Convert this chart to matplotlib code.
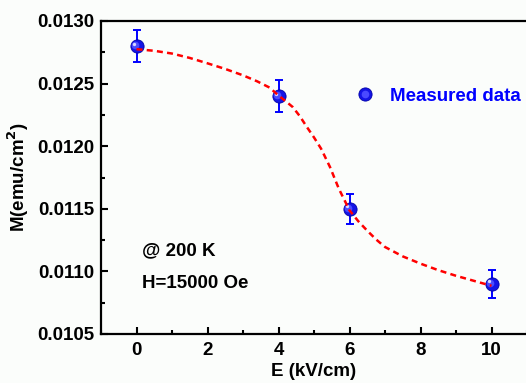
import matplotlib
matplotlib.use('Agg')
import matplotlib.pyplot as plt
import matplotlib.transforms as mtransforms
from matplotlib.legend_handler import HandlerTuple
from matplotlib.ticker import MultipleLocator

# measured points
field = [0, 4, 6, 10]
moment = [0.0128, 0.0124, 0.0115, 0.0109]
moment_err = [0.00013, 0.000125, 0.00012, 0.00011]

# dashed guide curve
fit_field = [0.0, 0.5, 1.0, 1.5, 2.0, 2.5, 3.0, 3.4, 3.75, 4.0, 4.2, 4.4, 4.6, 4.8,
             5.0, 5.2, 5.45, 5.7, 6.0, 6.25, 6.5, 6.75, 7.0, 7.5, 8.0, 8.5, 9.0, 9.5, 10.0]
fit_moment = [0.012775, 0.012762, 0.012740, 0.012705, 0.012662, 0.012617, 0.012566, 0.012518,
              0.012468, 0.012405, 0.012360, 0.012313, 0.012240, 0.012153, 0.012070,
              0.011980, 0.011834, 0.011660, 0.011488, 0.011400, 0.011325, 0.011255,
              0.011195, 0.011120, 0.011062, 0.011010, 0.010965, 0.010925, 0.010885]

bg = '#fbfdfb'
blue = '#0000ff'
fnt = 'Liberation Sans'
fs = 13.5

plt.rcParams['font.family'] = fnt
plt.rcParams['font.weight'] = 'bold'

fig = plt.figure(figsize=(5.26, 3.83), dpi=100, facecolor=bg)
ax = fig.add_axes([101/526, 49/383, 426/526, 313/383], facecolor=bg)

# error bars
ax.errorbar(field, moment, yerr=moment_err, fmt='none', ecolor=blue,
            elinewidth=1.4, capsize=3, capthick=1.4, zorder=2)

# shaded sphere markers
base, = ax.plot(field, moment, 'o', ms=9.5, color='#1414e6', mec='#0000a8', mew=0.6,
                zorder=3, label='Measured data')
off1 = mtransforms.ScaledTranslation(-0.8/72, 0.8/72, fig.dpi_scale_trans)
mid, = ax.plot(field, moment, 'o', ms=5.5, color='#4a4aff', mew=0,
               transform=ax.transData + off1, zorder=4)
off2 = mtransforms.ScaledTranslation(-1.8/72, 1.8/72, fig.dpi_scale_trans)
ax.plot(field, moment, 'o', ms=2.4, color='#d8d8ff', mew=0,
        transform=ax.transData + off2, zorder=5)

# dashed curve on top
ax.plot(fit_field, fit_moment, color='#ff0000', lw=1.8,
        linestyle=(0, (2.4, 1.7)), zorder=6)

ax.set_xlim(-1, 11)
ax.set_ylim(0.0105, 0.0130)
ax.xaxis.set_major_locator(MultipleLocator(2))
ax.xaxis.set_minor_locator(MultipleLocator(1))
ax.yaxis.set_major_locator(MultipleLocator(0.0005))
ax.yaxis.set_minor_locator(MultipleLocator(0.00025))
ax.yaxis.set_major_formatter(plt.FormatStrFormatter('%.4f'))

ax.tick_params(which='both', direction='in', width=1.5, top=False, right=False,
               labelsize=fs)
ax.tick_params(which='major', length=5)
ax.tick_params(which='minor', length=3)
ax.tick_params(axis='y', pad=5)
ax.tick_params(axis='x', pad=6)
for s in ax.spines.values():
    s.set_linewidth(1.6)
ax.spines['right'].set_visible(False)

ax.set_xlabel('E (kV/cm)', fontsize=fs, fontweight='bold', labelpad=3)
ax.set_ylabel('M(emu/cm$^\\mathbf{2}$)', fontsize=fs, fontweight='bold', labelpad=4)

ax.text(0.096, 0.265, '@ 200 K', transform=ax.transAxes, fontsize=fs,
        fontweight='bold', va='center', ha='left')
ax.text(0.096, 0.160, 'H=15000 Oe', transform=ax.transAxes, fontsize=fs,
        fontweight='bold', va='center', ha='left')

ax.legend(handles=[(base, mid)], labels=['Measured data'],
          handler_map={tuple: HandlerTuple(ndivide=1, pad=0)},
          loc='center left', bbox_to_anchor=(0.598, 0.760), frameon=False,
          borderpad=0, borderaxespad=0, handlelength=1.0, handletextpad=0.83,
          labelcolor=blue, prop={'family': fnt, 'weight': 'bold', 'size': fs})

fig.savefig('out.png', dpi=100, facecolor=bg)
